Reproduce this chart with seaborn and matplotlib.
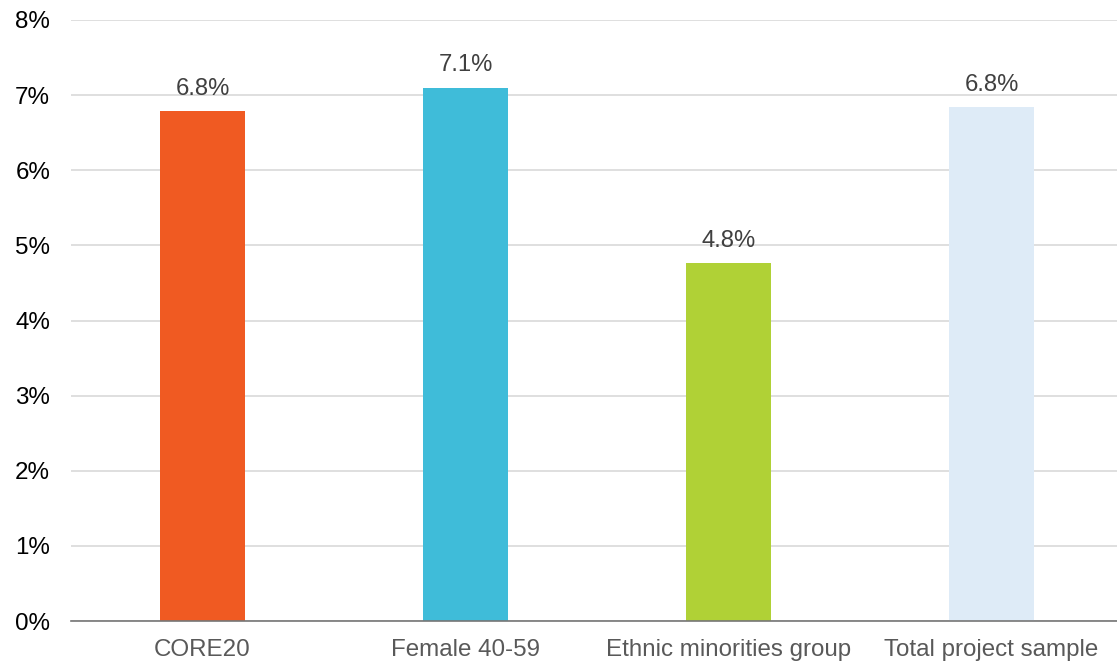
import matplotlib
matplotlib.use("Agg")
import matplotlib.pyplot as plt
import seaborn as sns
import pandas as pd
from matplotlib.ticker import FuncFormatter

categories = ["CORE20", "Female 40-59", "Ethnic minorities group", "Total project sample"]
values = [6.79, 7.10, 4.76, 6.84]
colors = ["#F05A22", "#3FBCD9", "#B0D136", "#DEEBF7"]
y_ticks = [0, 1, 2, 3, 4, 5, 6, 7, 8]

sns.set_theme(style="white")
plt.rcParams["font.family"] = ["Liberation Sans", "DejaVu Sans"]

df = pd.DataFrame({"group": categories, "pct": values})

fig = plt.figure(figsize=(11.17, 6.63), dpi=100)
ax = fig.add_axes([71 / 1117, 1 - 621 / 663, 1 - 71 / 1117, (621 - 20) / 663])

sns.barplot(data=df, x="group", y="pct", hue="group", palette=colors,
            width=0.32, legend=False, ax=ax, saturation=1, zorder=3,
            linewidth=0)

for i, v in enumerate(values):
    ax.text(i, v + 0.15, f"{v:.1f}%", ha="center", va="bottom",
            fontsize=17.2, color="#404040", zorder=4)

ax.set_ylim(0, 8)
ax.set_xlim(-0.5, 1046 / 263 - 0.5)
ax.set_yticks(y_ticks)
ax.yaxis.set_major_formatter(FuncFormatter(lambda v, _: f"{v:.0f}%"))
ax.grid(axis="y", color="#D9D9D9", linewidth=1.2, zorder=0)
ax.set_xlabel("")
ax.set_ylabel("")

for side in ["top", "right", "left"]:
    ax.spines[side].set_visible(False)
ax.spines["bottom"].set_color("#767676")
ax.spines["bottom"].set_linewidth(1.2)
ax.spines["bottom"].set_zorder(5)

ax.tick_params(axis="y", labelsize=17.4, labelcolor="#000000", length=0, pad=15)
ax.tick_params(axis="x", labelsize=17.4, labelcolor="#595959", length=0, pad=13)

fig.savefig("out.png", dpi=100)
